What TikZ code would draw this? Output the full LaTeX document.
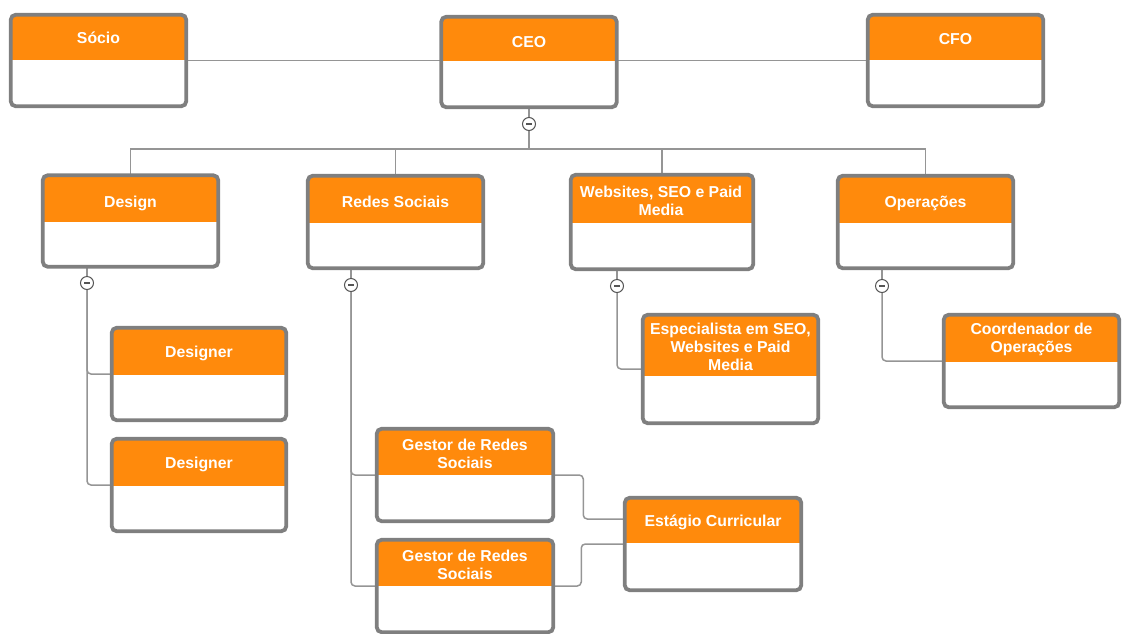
\documentclass[tikz,border=0pt]{standalone}
\usepackage{fontspec}
\setmainfont{Liberation Sans}
\usetikzlibrary{backgrounds}
\definecolor{orgC}{HTML}{FF8A0C}
\definecolor{bgray}{HTML}{7F7F7F}
\definecolor{lgray}{HTML}{959595}
\definecolor{cgray}{HTML}{555555}
\tikzset{
  box/.style={fill=white, inner sep=0pt, outer sep=0pt, rounded corners=5pt, minimum width=#1},
  box/.default=175.5pt,
  border/.style={draw=bgray, line width=3.8pt, rounded corners=5pt},
  lbl/.style={text=white, font=\fontsize{15.8}{18}\selectfont\bfseries, align=center, inner sep=0pt},
  lbl1/.style={lbl, text height=11.5pt, text depth=3.5pt},
  conn/.style={draw=lgray, line width=1.5pt, rounded corners=4pt},
  coll/.style={circle, draw=cgray, line width=1pt, fill=white, minimum size=13pt, inner sep=0pt,
    path picture={\draw[cgray, line width=1.2pt] ([xshift=-3pt]path picture bounding box.center) -- ([xshift=3pt]path picture bounding box.center);}}
}
\newcommand\hdrbox[2]{%
  \begin{scope}
    \clip[rounded corners=5pt] (#1.south west) rectangle (#1.north east);
    \fill[orgC] ([yshift=-#2pt]#1.north west) rectangle ([yshift=5pt]#1.north east);
  \end{scope}
  \draw[border] (#1.south west) rectangle (#1.north east);}
\begin{document}
\begin{tikzpicture}[x=1pt,y=-1pt]
\useasboundingbox (0,0) rectangle (1122,633);
% top row
\node[box, minimum height=91.5pt] (socio) at (98.5,60.5) {};
\hdrbox{socio}{45}
\node[lbl1] (socio-t) at (98.5,39.7) {Sócio};
\node[box, minimum height=90.5pt] (ceo) at (529,62) {};
\hdrbox{ceo}{44}
\node[lbl1] (ceo-t) at (529,43.5) {CEO};
\node[box, minimum height=91.5pt] (cfo) at (955.5,60.5) {};
\hdrbox{cfo}{45}
\node[lbl1] (cfo-t) at (955.5,40.5) {CFO};
% second row
\node[box, minimum height=91.5pt] (design) at (130.5,221) {};
\hdrbox{design}{47}
\node[lbl1] (design-t) at (130.5,203.5) {Design};
\node[box, minimum height=92.5pt] (redes) at (395.5,222) {};
\hdrbox{redes}{47}
\node[lbl1] (redes-t) at (395.5,203) {Redes Sociais};
\node[box=182.5pt, minimum height=94.5pt] (web) at (662,222) {};
\hdrbox{web}{48}
\node[lbl] (web-t) at (661,201) {Websites, SEO e Paid\\Media};
\node[box, minimum height=92.5pt] (ops) at (925.5,222) {};
\hdrbox{ops}{47}
\node[lbl1] (ops-t) at (925.5,203.5) {Operações};
% third level
\node[box=174.5pt, minimum height=92.5pt] (des1) at (199,374) {};
\hdrbox{des1}{47}
\node[lbl1] (des1-t) at (199,353.7) {Designer};
\node[box=174.5pt, minimum height=92.5pt] (des2) at (199,485) {};
\hdrbox{des2}{47}
\node[lbl1] (des2-t) at (199,464.7) {Designer};
\node[box, minimum height=108.5pt] (esp) at (730.5,369) {};
\hdrbox{esp}{61}
\node[lbl] (esp-t) at (730.5,347) {Especialista em SEO,\\Websites e Paid\\Media};
\node[box, minimum height=92.5pt] (coord) at (1031.5,361) {};
\hdrbox{coord}{47}
\node[lbl] (coord-t) at (1031.5,339.5) {Coordenador de\\Operações};
\node[box=176.5pt, minimum height=92.5pt] (ges1) at (465,475) {};
\hdrbox{ges1}{46}
\node[lbl] (ges1-t) at (465,453.5) {Gestor de Redes\\Sociais};
\node[box=176.5pt, minimum height=92.5pt] (ges2) at (465,586) {};
\hdrbox{ges2}{46}
\node[lbl] (ges2-t) at (465,564.5) {Gestor de Redes\\Sociais};
\node[box=176.5pt, minimum height=92.5pt] (est) at (713,544) {};
\hdrbox{est}{45}
\node[lbl1] (est-t) at (713,522.7) {Estágio Curricular};
% collapse markers
\node[coll] (c0) at (529,124) {};
\node[coll] (cd) at (87,283) {};
\node[coll] (cr) at (351,285) {};
\node[coll] (cw) at (617,286) {};
\node[coll] (co) at (882,286) {};
\begin{scope}[on background layer]
\draw[conn] (socio) -- (cfo);
\draw[conn] (ceo.south) -- (c0);
\draw[conn, rounded corners=0pt] (c0.south) -- (c0.south |- 0,149) -| (design.north);
\draw[conn, rounded corners=0pt] (c0.south |- 0,149) -| (redes.north);
\draw[conn, rounded corners=0pt] (c0.south |- 0,149) -| (web.north);
\draw[conn, rounded corners=0pt] (c0.south |- 0,149) -| (ops.north);
\draw[conn] (cd) -- (cd |- design.south);
\draw[conn] (cr) -- (cr |- redes.south);
\draw[conn] (cw) -- (cw |- web.south);
\draw[conn] (co) -- (co |- ops.south);
\draw[conn] (cd.south) |- (des1.west);
\draw[conn] (cd.south) |- (des2.west);
\draw[conn] (cr.south) |- (ges1.west);
\draw[conn] (cr.south) |- (ges2.west);
\draw[conn] (cw.south) |- (esp.west);
\draw[conn] (co.south) |- (coord.west);
\draw[conn] (ges1.east) -- ++(30,0) |- ([yshift=25pt]est.west);
\draw[conn] (ges2.east) -- ++(28,0) |- (est.west);
\end{scope}
\end{tikzpicture}
\end{document}
